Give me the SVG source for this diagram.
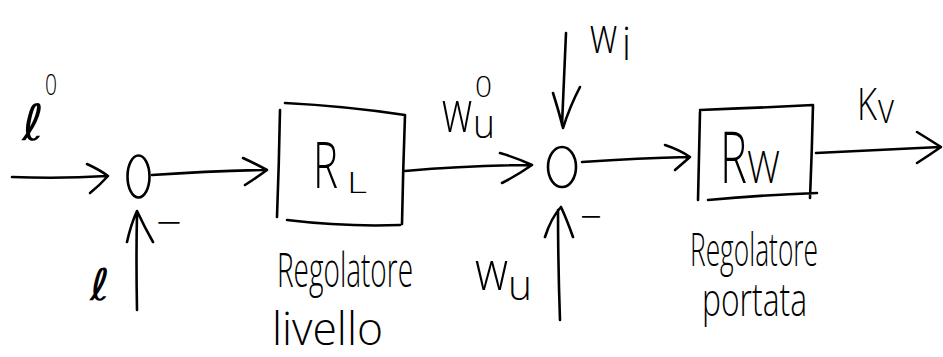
<svg xmlns="http://www.w3.org/2000/svg" width="943" height="357" viewBox="0 0 943 357">
<style>
.s{fill:none;stroke:#000;stroke-width:2.6;stroke-linecap:round;stroke-linejoin:round}
.t{font-family:"Open Sans","Liberation Sans",sans-serif;font-weight:300;fill:#000}
.l{font-family:"DejaVu Sans","Liberation Sans",sans-serif;font-weight:normal;fill:#000}
</style>
<rect width="943" height="357" fill="#fff"/>
<g id="connectors">
  <path class="s" d="M12,177 Q60,179 107,176 M87,164 Q100,170 108,176 Q99,186 90,193"/>
  <path class="s" d="M152,175 Q210,171 263,170 M243,158 Q256,164 267,170 Q256,178 245,185"/>
  <path class="s" d="M405,171 Q470,165 531,165 M500,153 Q517,158 532,165 Q516,176 502,183"/>
  <path class="s" d="M582,162 Q640,158 688,157 M665,145 Q680,150 690,157 Q682,164 675,170"/>
  <path class="s" d="M816,153 Q880,150 940,147 M917,132 Q930,140 941,147 Q928,156 917,163"/>
  <path class="s" d="M566,33 Q564,80 562,125 M553,93 Q559,112 563,128 Q570,106 580,87"/>
  <path class="s" d="M560,320 Q558,265 558,210 M545,237 Q551,218 561,207 Q567,220 573,237"/>
  <path class="s" d="M137,310 Q136,260 137,213 M127,242 Q131,224 137,211 Q145,228 153,242"/>
</g>
<g id="j1"><ellipse class="s" cx="138.5" cy="176.5" rx="11" ry="21"/></g>
<g id="rl">
  <path class="s" d="M285,103 Q345,106 405,115 M280,110 Q279,165 277,217 M287,220 Q345,227 400,225 M405,115 Q403,170 402,224"/>
  <text class="t"><tspan x="313" y="188" font-size="64" textLength="25" lengthAdjust="spacingAndGlyphs">R</tspan><tspan x="347" y="193" font-size="30" textLength="20" lengthAdjust="spacingAndGlyphs">L</tspan></text>
</g>
<g id="j2"><ellipse class="s" cx="562" cy="167" rx="14" ry="20"/></g>
<g id="rw">
  <path class="s" d="M700,110 Q757,108 813,105 M700,112 Q699,157 698,200 M708,200 Q762,195 817,193 M813,105 Q812,150 810,198"/>
  <text class="t"><tspan x="720" y="183" font-size="72" textLength="27" lengthAdjust="spacingAndGlyphs">R</tspan><tspan x="747" y="183" font-size="44" textLength="33" lengthAdjust="spacingAndGlyphs">W</tspan></text>
</g>
<g id="labels">
  <text class="l"><tspan x="22" y="140" font-size="50" textLength="22" lengthAdjust="spacingAndGlyphs">ℓ</tspan><tspan class="t" x="45" y="95" font-size="30" textLength="12" lengthAdjust="spacingAndGlyphs">0</tspan></text>
  <text class="l" x="90" y="300" font-size="44" textLength="20" lengthAdjust="spacingAndGlyphs">ℓ</text>
  <text class="t" x="156" y="237" font-size="40" textLength="26" lengthAdjust="spacingAndGlyphs">−</text>
  <text class="t" x="580" y="231" font-size="40" textLength="22" lengthAdjust="spacingAndGlyphs">−</text>
  <text class="t"><tspan x="442" y="132" font-size="58" textLength="30" lengthAdjust="spacingAndGlyphs">w</tspan><tspan x="473" y="138" font-size="40" textLength="22" lengthAdjust="spacingAndGlyphs">u</tspan><tspan x="475" y="97" font-size="30" textLength="17" lengthAdjust="spacingAndGlyphs">0</tspan></text>
  <text class="t"><tspan x="590" y="53" font-size="50" textLength="27" lengthAdjust="spacingAndGlyphs">w</tspan><tspan x="622" y="60" font-size="46" textLength="9" lengthAdjust="spacingAndGlyphs">i</tspan></text>
  <text class="t"><tspan x="475" y="290" font-size="56" textLength="33" lengthAdjust="spacingAndGlyphs">w</tspan><tspan x="508" y="300" font-size="42" textLength="24" lengthAdjust="spacingAndGlyphs">u</tspan></text>
  <text class="t"><tspan x="857" y="120" font-size="45" textLength="20" lengthAdjust="spacingAndGlyphs">K</tspan><tspan x="878" y="123" font-size="42" textLength="16" lengthAdjust="spacingAndGlyphs">v</tspan></text>
  <text class="t"><tspan x="277" y="287" font-size="48" textLength="136" lengthAdjust="spacingAndGlyphs">Regolatore</tspan><tspan x="272" y="345" font-size="46" textLength="111" lengthAdjust="spacingAndGlyphs">livello</tspan></text>
  <text class="t"><tspan x="690" y="266" font-size="46" textLength="128" lengthAdjust="spacingAndGlyphs">Regolatore</tspan><tspan x="702" y="316" font-size="46" textLength="105" lengthAdjust="spacingAndGlyphs">portata</tspan></text>
</g>
</svg>
